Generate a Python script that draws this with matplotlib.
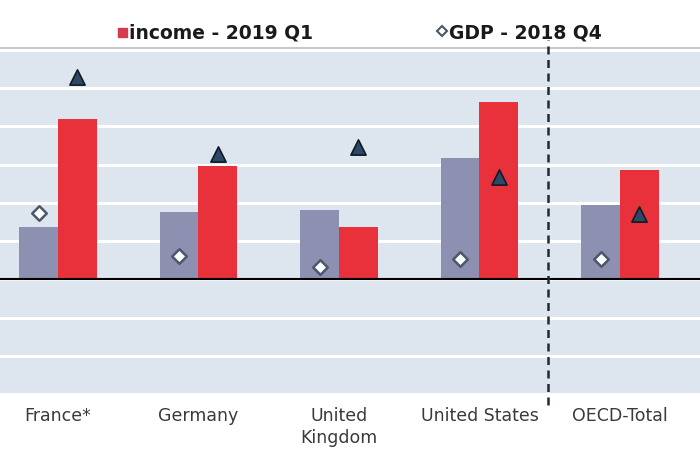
import matplotlib
matplotlib.use("Agg")
import matplotlib.pyplot as plt
import numpy as np

categories = ["France*", "Germany", "United\nKingdom", "United States", "OECD-Total"]
income_prev = [1.36, 1.75, 1.81, 3.17, 1.94]     # gray bars
income_q1 = [4.19, 2.96, 1.36, 4.63, 2.85]        # red bars: income - 2019 Q1
gdp_prev = [5.29, 3.27, 3.46, 2.67, 1.70]         # triangles
gdp_q4 = [1.73, 0.60, 0.31, 0.52, 0.52]           # diamonds: GDP - 2018 Q4

BG = "#dde6ee"
GRAY = "#8d90b0"
RED = "#e8313b"
NAVY = "#2c4a68"

fig = plt.figure(figsize=(7, 4.5), dpi=100)
ax = fig.add_axes([0.0, (450 - 394) / 450, 1.0, (394 - 48) / 450])
ax.set_facecolor(BG)

x = np.arange(len(categories))
w = 0.275
ax.bar(x - w / 2, income_prev, width=w, color=GRAY, zorder=3)
ax.bar(x + w / 2, income_q1, width=w, color=RED, zorder=3)
ax.scatter(x + w / 2, gdp_prev, marker="^", s=120, color=NAVY,
           edgecolors="#111a25", linewidths=1.2, zorder=5)
ax.scatter(x - w / 2, gdp_q4, marker="D", s=55, color="white",
           edgecolors="#4b5868", linewidths=1.8, zorder=5)

ax.set_xlim(-0.413, 4.57)
ax.set_ylim(-3.0, 6.05)
ax.set_yticks(np.arange(-3, 7, 1))
ax.grid(axis="y", color="white", linewidth=2.2, zorder=1)
ax.axhline(0, color="black", linewidth=1.5, zorder=4)
ax.set_axisbelow(True)

for s in ["left", "right", "bottom"]:
    ax.spines[s].set_visible(False)
ax.spines["top"].set_color("#c8c8c8")
ax.spines["top"].set_linewidth(1.5)

ax.tick_params(axis="y", left=False, labelleft=False)
ax.tick_params(axis="x", bottom=False, pad=6)
ax.set_xticks(x)
ax.set_xticklabels(categories, fontsize=12.5, color="#3a3a3a", linespacing=1.25)

# vertical dashed separator
ax.plot([3.49, 3.49], [-3.3, 6.25], color="#1f2a36", linewidth=1.8,
        linestyle=(0, (3.2, 2.2)), clip_on=False, zorder=6)

# legend
fig.patches.append(plt.Rectangle((118 / 700, 1 - 37 / 450), 9 / 700, 9 / 450,
                                 transform=fig.transFigure, color="#d63a4e", figure=fig))
fig.text(129 / 700, 1 - 33 / 450, "income - 2019 Q1", fontsize=13.5, fontweight="bold",
         va="center", ha="left", color="#1a1a1a")
fig.lines.append(plt.Line2D([442 / 700], [1 - 31 / 450], marker="D", markersize=5,
                            markerfacecolor="white", markeredgecolor="#4b5868",
                            markeredgewidth=1.5, transform=fig.transFigure, figure=fig))
fig.text(449 / 700, 1 - 33 / 450, "GDP - 2018 Q4", fontsize=13.5, fontweight="bold",
         va="center", ha="left", color="#1a1a1a")

fig.savefig("out.png", dpi=100)
